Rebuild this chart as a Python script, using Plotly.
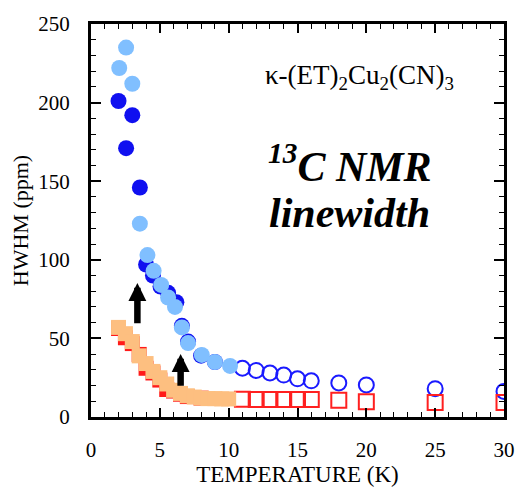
import plotly.graph_objects as go

# ---- data ----
dark_T = [2.0, 2.55, 3.0, 3.55, 4.0, 4.5, 5.05, 5.6, 6.2, 6.6, 7.05, 8.0, 9.0]
dark_y = [201, 171, 192, 146, 97, 90, 83, 79, 73, 58, 48, 39, 35]

light_T = [2.05, 2.55, 3.0, 3.55, 4.1, 4.55, 5.1, 5.6, 6.1, 6.6, 7.05, 8.05, 9.0, 10.1]
light_y = [222, 235, 212, 123, 103, 93, 84, 76, 70, 57, 47, 39.5, 35, 32.5]

open_T = [11, 12, 13, 14, 15, 16, 18, 20, 25, 30]
open_y = [31, 29.6, 28, 26.7, 24.3, 23, 21.7, 20.4, 18, 16.3]

red_T = [2.0, 2.5, 3.0, 3.5, 4.0, 4.5, 5.0, 5.5, 6.0, 6.5, 7.0, 8.0]
red_y = [56.3, 50.4, 46.7, 39.8, 31, 28, 23.5, 17.5, 16.5, 14.5, 13, 12]

orange_T = [2.0, 2.5, 3.0, 3.5, 4.0, 4.5, 5.0, 5.5, 6.0, 6.5, 7.0, 7.5, 8.0, 8.5, 9.0, 9.5, 10.0]
orange_y = [57, 53, 48, 38.9, 34, 29, 25, 21, 17, 15, 13.5, 12.7, 12, 11.7, 11.7, 11.5, 11.5]

osq_T = [11, 12, 13, 14, 15, 16, 18, 20, 25, 30]
osq_y = [11.3, 11.2, 11.2, 11.2, 11.2, 11.2, 10.6, 9.7, 9.2, 9.2]

arrow_T = [3.37, 6.51]
arrow_from = [58.7, 19.0]
arrow_to = [85.2, 40.0]

x_ticks = [0, 5, 10, 15, 20, 25, 30]
y_ticks = [0, 50, 100, 150, 200, 250]

FONT = "Liberation Serif"

fig = go.Figure()
fig.add_trace(go.Scatter(x=open_T, y=open_y, mode="markers",
                         marker=dict(symbol="circle-open", size=15, color="#1a1aff", line=dict(width=2))))
fig.add_trace(go.Scatter(x=osq_T, y=osq_y, mode="markers",
                         marker=dict(symbol="square-open", size=15, color="#ff2020", line=dict(width=2))))
fig.add_trace(go.Scatter(x=dark_T, y=dark_y, mode="markers",
                         marker=dict(symbol="circle", size=16, color="#1010f0", line=dict(width=0))))
fig.add_trace(go.Scatter(x=light_T, y=light_y, mode="markers",
                         marker=dict(symbol="circle", size=16, color="#80bfff", line=dict(width=0))))
fig.add_trace(go.Scatter(x=red_T, y=red_y, mode="markers",
                         marker=dict(symbol="square", size=15, color="#ff1a1a", line=dict(width=0))))
fig.add_trace(go.Scatter(x=orange_T, y=orange_y, mode="markers",
                         marker=dict(symbol="square", size=15, color="#fdbf80", line=dict(width=0))))

for t, y0, y1 in zip(arrow_T, arrow_from, arrow_to):
    fig.add_annotation(x=t, y=y1, ax=t, ay=y0, xref="x", yref="y", axref="x", ayref="y",
                       showarrow=True, arrowhead=2, arrowsize=0.55, arrowwidth=6.5,
                       arrowcolor="black", text="")

fig.add_annotation(x=0.65, y=0.865, xref="paper", yref="paper", showarrow=False,
                   xanchor="center", yanchor="middle",
                   text="κ-(ET)<sub>2</sub>Cu<sub>2</sub>(CN)<sub>3</sub>",
                   font=dict(family=FONT, size=27, color="black"))
fig.add_annotation(x=0.628, y=0.645, xref="paper", yref="paper", showarrow=False,
                   xanchor="center", yanchor="middle",
                   text="<b><i><sup>13</sup>C NMR</i></b>",
                   font=dict(family=FONT, size=42, color="black"))
fig.add_annotation(x=0.625, y=0.52, xref="paper", yref="paper", showarrow=False,
                   xanchor="center", yanchor="middle",
                   text="<b><i>linewidth</i></b>",
                   font=dict(family=FONT, size=42, color="black"))

fig.update_layout(
    width=527, height=498,
    margin=dict(l=91, r=15, t=16, b=81),
    paper_bgcolor="white", plot_bgcolor="white",
    showlegend=False,
    font=dict(family=FONT, color="black"),
    xaxis=dict(range=[0, 30], tickvals=x_ticks, ticktext=[str(v) for v in x_ticks],
               ticks="inside", ticklen=9, tickwidth=1.5, tickcolor="black",
               minor=dict(dtick=1, ticks="inside", ticklen=5, tickwidth=1.2, tickcolor="black"),
               showline=True, linewidth=3, linecolor="black", mirror="allticks",
               showgrid=False, zeroline=False, ticklabelstandoff=12,
               tickfont=dict(family=FONT, size=21),
               title=dict(text="TEMPERATURE (K)", font=dict(family=FONT, size=23), standoff=4)),
    yaxis=dict(range=[0, 250], tickvals=y_ticks, ticktext=[str(v) for v in y_ticks],
               ticks="inside", ticklen=10, tickwidth=1.5, tickcolor="black",
               minor=dict(dtick=10, ticks="inside", ticklen=5, tickwidth=1.2, tickcolor="black"),
               showline=True, linewidth=3, linecolor="black", mirror="allticks",
               showgrid=False, zeroline=False, ticklabelstandoff=14,
               tickfont=dict(family=FONT, size=21),
               title=dict(text="HWHM (ppm)", font=dict(family=FONT, size=22), standoff=4)),
)

fig.write_html(
    "out.html",
    config={"displayModeBar": False},
    post_script="document.documentElement.style.margin='0';document.body.style.margin='0';"
                "document.documentElement.style.overflow='hidden';document.body.style.overflow='hidden';",
)
